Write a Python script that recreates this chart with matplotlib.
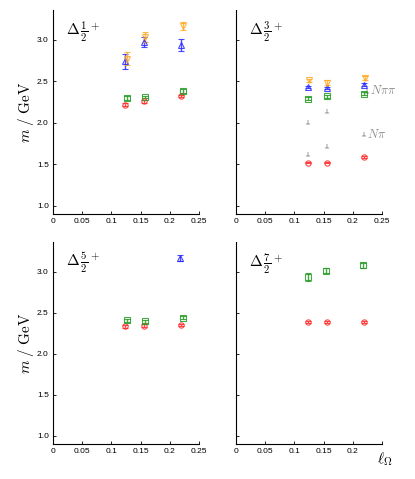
import numpy as np
import matplotlib
matplotlib.use('Agg')
import matplotlib.pyplot as plt

plt.rcParams['mathtext.fontset'] = 'cm'
plt.rcParams['font.family'] = ['Liberation Sans', 'DejaVu Sans']

# lattice spacing positions
x_base = [0.124, 0.155, 0.219]
x_shift = [0.127, 0.158, 0.222]

# Delta 1/2+
h1_red = [2.22, 2.26, 2.32]
h1_red_e = [0.02, 0.02, 0.015]
h1_green = [2.30, 2.31, 2.385]
h1_green_e = [0.02, 0.015, 0.02]
h1_blue = [2.74, 2.97, 2.94]
h1_blue_e = [0.095, 0.06, 0.075]
h1_orange = [2.775, 3.035, 3.165]
h1_orange_e = [0.08, 0.065, 0.045]

# Delta 3/2+
h3_red = [1.52, 1.52, 1.586]
h3_red_e = [0.01, 0.01, 0.01]
h3_green = [2.29, 2.32, 2.35]
h3_green_e = [0.02, 0.02, 0.02]
h3_blue = [2.43, 2.42, 2.46]
h3_blue_e = [0.015, 0.015, 0.015]
h3_orange = [2.51, 2.48, 2.54]
h3_orange_e = [0.02, 0.03, 0.025]
npi = [1.62, 1.72]
npipi = [2.01, 2.145]

# Delta 5/2+
h5_red = [2.335, 2.343, 2.35]
h5_red_e = [0.02, 0.02, 0.015]
h5_green = [2.407, 2.395, 2.44]
h5_green_e = [0.02, 0.02, 0.02]
h5_blue = [3.164]
h5_blue_e = [0.04]

# Delta 7/2+
h7_red = [2.384, 2.384, 2.384]
h7_red_e = [0.01, 0.01, 0.01]
h7_green = [2.932, 3.008, 3.076]
h7_green_e = [0.045, 0.03, 0.03]

RED = '#ff2a2a'
GREEN = '#249a24'
BLUE = '#2a2aff'
ORANGE = '#ffaa22'
GRAY = '#8c8c8c'

def pts(ax, x, y, e, c, m):
    ax.errorbar(x, y, yerr=e, fmt=m, color=c, mfc='none', ms=3.8, mew=0.8,
                elinewidth=1.0, capsize=2.5, capthick=1.0, ecolor=c, alpha=0.85)

def thr(ax, x, y):
    ax.plot(x, y, ls='none', marker=r'$\perp$', color=GRAY, ms=3, mew=0.3)

fig = plt.figure(figsize=(4.15, 4.79), dpi=100)
w, h = 146/415, 204/479
axs = [fig.add_axes([53/415, 1-214/479, w, h]),
       fig.add_axes([236/415, 1-214/479, w, h]),
       fig.add_axes([53/415, 1-444/479, w, 202/479]),
       fig.add_axes([236/415, 1-444/479, w, 202/479])]

for i, ax in enumerate(axs):
    ax.set_xlim(0, 0.25)
    ax.set_ylim(0.9, 3.36)
    ax.spines['top'].set_visible(False)
    ax.spines['right'].set_visible(False)
    ax.set_xticks([0, 0.05, 0.1, 0.15, 0.2, 0.25])
    if i == 3:
        ax.set_xticklabels(['0', '0.05', '0.1', '0.15', '0.2', ''])
    else:
        ax.set_xticklabels(['0', '0.05', '0.1', '0.15', '0.2', '0.25'])
    ax.set_yticks([1.0, 1.5, 2.0, 2.5, 3.0])
    ax.tick_params(direction='in', length=2.5, width=0.6, labelsize=6, pad=3)
    if i % 2 == 1:
        ax.set_yticklabels([])
    else:
        ax.set_ylabel(r'$m\ /\ \mathrm{GeV}$', fontsize=11, labelpad=1)

labels = [r'$\Delta\,\frac{1}{2}^+$', r'$\Delta\,\frac{3}{2}^+$',
          r'$\Delta\,\frac{5}{2}^+$', r'$\Delta\,\frac{7}{2}^+$']
for ax, lab in zip(axs, labels):
    ax.text(0.09, 0.955, lab, transform=ax.transAxes, fontsize=11, va='top')

ax = axs[0]
pts(ax, x_base, h1_red, h1_red_e, RED, 'o')
pts(ax, x_shift, h1_green, h1_green_e, GREEN, 's')
pts(ax, x_base, h1_blue, h1_blue_e, BLUE, '^')
pts(ax, x_shift, h1_orange, h1_orange_e, ORANGE, 'v')

ax = axs[1]
thr(ax, x_base[:2], npi)
thr(ax, x_base[:2], npipi)
thr(ax, [0.2245], [2.385])
thr(ax, [0.2185], [1.86])
ax.text(0.229, 2.385, r'$N\pi\pi$', color=GRAY, fontsize=9, va='center')
ax.text(0.2235, 1.86, r'$N\pi$', color=GRAY, fontsize=9, va='center')
pts(ax, x_base, h3_red, h3_red_e, RED, 'o')
pts(ax, x_base, h3_green, h3_green_e, GREEN, 's')
pts(ax, x_base, h3_blue, h3_blue_e, BLUE, '^')
pts(ax, [0.125, 0.156, 0.221], h3_orange, h3_orange_e, ORANGE, 'v')

ax = axs[2]
pts(ax, x_base, h5_red, h5_red_e, RED, 'o')
pts(ax, x_shift, h5_green, h5_green_e, GREEN, 's')
pts(ax, [0.2175], h5_blue, h5_blue_e, BLUE, '^')

ax = axs[3]
pts(ax, x_base, h7_red, h7_red_e, RED, 'o')
pts(ax, [0.123, 0.154, 0.218], h7_green, h7_green_e, GREEN, 's')
ax.text(1.02, -0.075, r'$\ell_\Omega$', transform=ax.transAxes, fontsize=11, ha='center', va='center')

fig.savefig('out.png', dpi=100)
